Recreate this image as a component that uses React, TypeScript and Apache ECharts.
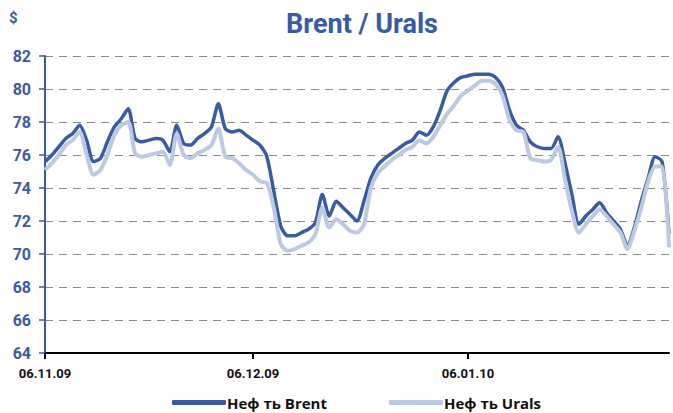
import React, { useEffect, useRef } from "react";
import * as echarts from "echarts";

const START_DATE = [2009, 10, 6]; // 06.11.09 (month 0-based)
const DAY_COUNT = 91;
const TICK_LABELS = ["06.11.09", "06.12.09", "06.01.10"];
const Y_TICKS = [64, 66, 68, 70, 72, 74, 76, 78, 80, 82];

const BRENT = [
  75.6, 76.0, 76.5, 77.0, 77.3, 77.8, 76.9, 75.6, 75.8, 76.8,
  77.7, 78.2, 78.8, 77.0, 76.8, 76.9, 77.0, 76.9, 76.2, 77.8,
  76.7, 76.6, 77.0, 77.3, 77.7, 79.1, 77.6, 77.4, 77.5, 77.2,
  76.9, 76.6, 75.9, 73.8, 71.7, 71.1, 71.1, 71.3, 71.5, 71.9,
  73.6, 72.3, 73.2, 72.8, 72.4, 72.0, 73.2, 74.6, 75.4, 75.8,
  76.1, 76.4, 76.7, 76.9, 77.4, 77.2, 77.7, 78.7, 79.9, 80.4,
  80.7, 80.8, 80.9, 80.9, 80.9, 80.7, 80.1, 78.7, 77.8, 77.5,
  76.8, 76.5, 76.4, 76.4, 77.1, 75.5, 73.6, 71.8, 72.3, 72.7,
  73.1, 72.5, 72.0, 71.5, 70.5, 71.6, 73.2, 74.6, 75.9, 75.6,
  71.2,
];

const URALS = [
  75.1, 75.5, 76.0, 76.6, 76.9, 77.4, 76.0, 74.8, 75.1, 76.0,
  77.2, 77.8, 78.0, 76.1, 75.9, 76.0, 76.1, 76.2, 75.4, 77.3,
  76.0, 75.8, 76.1, 76.3, 76.6, 77.6, 75.9, 75.8, 75.5, 75.1,
  74.8, 74.4, 74.3, 72.8, 70.6, 70.2, 70.3, 70.5, 70.7, 71.2,
  72.8, 71.6, 72.1, 71.8, 71.4, 71.3, 71.8, 74.0, 74.9, 75.3,
  75.7, 76.0, 76.3, 76.5, 76.9, 76.7, 77.1, 77.8, 78.5, 79.0,
  79.6, 79.9, 80.2, 80.5, 80.5, 80.3, 79.6, 78.1, 77.5, 77.4,
  75.8, 75.7, 75.6, 75.7, 76.5, 74.5, 72.6, 71.3, 71.8, 72.3,
  72.7, 72.3, 71.8, 71.3, 70.3, 71.4, 72.8, 74.4, 75.3, 75.3,
  70.4,
];

const SERIES_NAMES = ["Неф ть Brent", "Неф ть Urals"];
const TITLE = "Brent / Urals";
const UNIT = "$";

function buildDates(): string[] {
  const out: string[] = [];
  for (let i = 0; i < DAY_COUNT; i++) {
    const d = new Date(START_DATE[0], START_DATE[1], START_DATE[2] + i);
    const dd = String(d.getDate()).padStart(2, "0");
    const mm = String(d.getMonth() + 1).padStart(2, "0");
    const yy = String(d.getFullYear() % 100).padStart(2, "0");
    out.push(`${dd}.${mm}.${yy}`);
  }
  return out;
}

const BLUE = "#3A5BA3";
const LIGHT = "#BDC9E3";
const FONT = "Roboto, 'Liberation Sans', sans-serif";
const WIDE = "'Open Sans', Roboto, sans-serif";

export default function App() {
  const ref = useRef<HTMLDivElement>(null);
  useEffect(() => {
    if (!ref.current) return;
    const chart = echarts.init(ref.current, undefined, { renderer: "svg" });
    const dates = buildDates();
    const showTick = (idx: number) => TICK_LABELS.includes(dates[idx]);
    chart.setOption({
      animation: false,
      backgroundColor: "#ffffff",
      textStyle: { fontFamily: FONT },
      title: {
        text: TITLE,
        left: 357,
        textAlign: "center",
        top: 5,
        textStyle: { color: BLUE, fontSize: 27, fontWeight: "bold", fontFamily: FONT },
      },
      graphic: [
        {
          type: "text",
          left: 9,
          top: 10,
          style: { text: UNIT, fill: BLUE, font: `bold 15px ${FONT}` },
        },
      ],
      legend: {
        top: 390,
        left: 167,
        itemWidth: 54,
        itemHeight: 5,
        itemGap: 62,
        icon: "roundRect",
        textStyle: { color: "#111", fontSize: 15, fontWeight: "bold", fontFamily: WIDE, padding: [0, 0, 0, -4] },
        data: SERIES_NAMES,
      },
      grid: { left: 45, right: 4, top: 56, bottom: 60, containLabel: false },
      xAxis: {
        type: "category",
        data: dates,
        boundaryGap: false,
        axisLine: { lineStyle: { color: "#000", width: 2 } },
        axisTick: { interval: (idx: number) => showTick(idx), length: 6, lineStyle: { color: "#000", width: 2 } },
        axisLabel: {
          interval: (idx: number) => showTick(idx),
          color: "#111",
          fontSize: 13,
          fontWeight: "bold",
          margin: 14,
          fontFamily: FONT,
        },
        splitLine: { show: false },
      },
      yAxis: {
        type: "value",
        min: Y_TICKS[0],
        max: Y_TICKS[Y_TICKS.length - 1],
        interval: 2,
        axisLine: { show: true, lineStyle: { color: BLUE, width: 2 } },
        axisTick: { show: true, length: 6, lineStyle: { color: BLUE, width: 1.5 } },
        axisLabel: { color: BLUE, fontSize: 16, fontWeight: "bold", margin: 14, fontFamily: FONT },
        splitLine: {
          show: true,
          lineStyle: { color: "#8a8a8a", type: [8, 6], width: 1.2 },
        },
      },
      series: [
        {
          name: SERIES_NAMES[0],
          type: "line",
          data: BRENT,
          symbol: "none",
          smooth: 0.25,
          lineStyle: { color: BLUE, width: 3.5 },
          itemStyle: { color: BLUE },
        },
        {
          name: SERIES_NAMES[1],
          type: "line",
          data: URALS,
          symbol: "none",
          smooth: 0.25,
          lineStyle: { color: LIGHT, width: 4 },
          itemStyle: { color: LIGHT },
        },
      ],
    });
    return () => chart.dispose();
  }, []);
  return (
    <div
      ref={ref}
      style={{ position: "absolute", left: 0, top: 0, width: 673, height: 413 }}
    />
  );
}
